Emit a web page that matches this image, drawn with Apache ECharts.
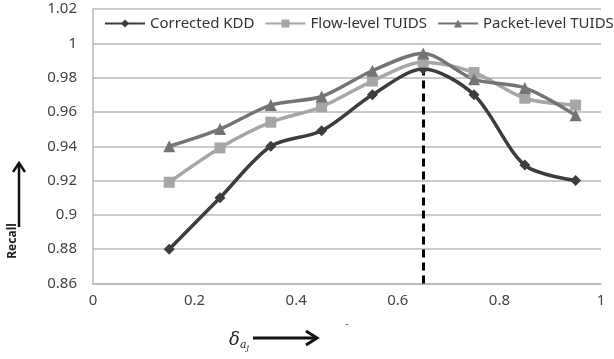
<!DOCTYPE html>
<html>
<head>
<meta charset="utf-8">
<script src="https://cdn.jsdelivr.net/npm/echarts@6/dist/echarts.min.js"></script>
<style>
  html, body { margin: 0; padding: 0; background: #fff; }
  #chart { width: 614px; height: 359px; }
</style>
</head>
<body>
<div id="chart"></div>
<script>
// delta values on the x axis
const deltas = [0.15, 0.25, 0.35, 0.45, 0.55, 0.65, 0.75, 0.85, 0.95];

const kddRecall = [0.88, 0.91, 0.94, 0.949, 0.97, 0.985, 0.97, 0.929, 0.92];
const flowRecall = [0.919, 0.939, 0.954, 0.963, 0.978, 0.989, 0.983, 0.968, 0.964];
const packetRecall = [0.94, 0.95, 0.964, 0.969, 0.984, 0.994, 0.979, 0.974, 0.958];

const seriesNames = ['Corrected KDD', 'Flow-level TUIDS', 'Packet-level TUIDS'];

// vertical marker at the best delta
const bestDelta = 0.65;
const markerTop = 0.995;

const pair = (ys) => deltas.map((x, i) => [x, ys[i]]);

const chart = echarts.init(document.getElementById('chart'));

const font = '"Noto Sans", sans-serif';
const gridColor = '#b9b9b9';

function lineSeries(name, data, color, symbol, size) {
  return {
    name,
    type: 'line',
    data: pair(data),
    smooth: 0.3,
    symbol,
    symbolSize: size,
    lineStyle: { width: 3.5, color },
    itemStyle: { color },
    z: 3,
  };
}

const series = [
  lineSeries(seriesNames[0], kddRecall, '#3d3d3d', 'diamond', 11),
  lineSeries(seriesNames[1], flowRecall, '#a6a6a6', 'rect', 11),
  lineSeries(seriesNames[2], packetRecall, '#747474', 'triangle', 12),
];

series[0].markLine = {
  silent: true,
  symbol: 'none',
  label: { show: false },
  lineStyle: { color: '#000', width: 3, type: [8, 5] },
  data: [[{ coord: [bestDelta, 0.86] }, { coord: [bestDelta, markerTop] }]],
  z: 2,
};

chart.setOption({
  animation: false,
  backgroundColor: '#fff',
  grid: { left: 93, right: 13, top: 9, bottom: 75.5 },
  legend: {
    data: seriesNames,
    left: 104,
    top: 16,
    itemGap: 10,
    itemWidth: 40,
    itemHeight: 10,
    padding: 0,
    textStyle: { fontFamily: font, fontSize: 15, color: '#333' },
  },
  xAxis: {
    type: 'value',
    min: 0,
    max: 1,
    interval: 0.2,
    axisLine: { show: true, lineStyle: { color: gridColor, width: 1.5 } },
    axisTick: { show: false },
    splitLine: { show: false },
    axisLabel: {
      margin: 10,
      fontFamily: font,
      fontSize: 15,
      color: '#444',
      formatter: (v) => String(+v.toFixed(1)),
    },
  },
  yAxis: {
    type: 'value',
    min: 0.86,
    max: 1.02,
    interval: 0.02,
    axisLine: { show: true, lineStyle: { color: gridColor, width: 1.5 } },
    axisTick: { show: false },
    splitLine: { show: true, lineStyle: { color: gridColor, width: 1.5 } },
    axisLabel: {
      margin: 16,
      fontFamily: font,
      fontSize: 15,
      color: '#444',
      formatter: (v) => String(+v.toFixed(2)),
    },
  },
  series,
  graphic: [
    // Recall label with arrow
    {
      type: 'text',
      x: 13, y: 241,
      rotation: Math.PI / 2,
      style: {
        text: 'Recall',
        font: 'bold 12px "Noto Sans", sans-serif',
        fill: '#222',
        align: 'center',
        verticalAlign: 'middle',
      },
    },
    {
      type: 'line',
      shape: { x1: 19, y1: 227, x2: 19, y2: 164 },
      style: { stroke: '#111', lineWidth: 2.5 },
    },
    {
      type: 'polyline',
      shape: { points: [[13, 172], [19, 163], [25, 172]] },
      style: { stroke: '#111', lineWidth: 2.5, fill: null },
    },
    // delta label with arrow
    {
      type: 'text',
      x: 239, y: 340,
      style: {
        rich: {
          d: { fontFamily: '"DejaVu Serif", serif', fontStyle: 'italic', fontSize: 18, fill: '#222' },
          a: { fontFamily: '"DejaVu Serif", serif', fontStyle: 'italic', fontSize: 11, fill: '#222', padding: [10, 0, 0, 0] },
          j: { fontFamily: '"DejaVu Serif", serif', fontStyle: 'italic', fontSize: 8, fill: '#222', padding: [16, 0, 0, 0] },
        },
        text: '{d|δ}{a|a}{j|j}',
        align: 'center',
        verticalAlign: 'middle',
      },
    },
    {
      type: 'line',
      shape: { x1: 253, y1: 338, x2: 316, y2: 338 },
      style: { stroke: '#111', lineWidth: 3 },
    },
    {
      type: 'polyline',
      shape: { points: [[306, 331], [317, 338], [306, 345]] },
      style: { stroke: '#111', lineWidth: 3, fill: null },
    },
    {
      type: 'text',
      x: 347, y: 325,
      style: { text: '-', font: '12px "Noto Sans", sans-serif', fill: '#777', align: 'center', verticalAlign: 'middle' },
    },
  ],
});
</script>
</body>
</html>
